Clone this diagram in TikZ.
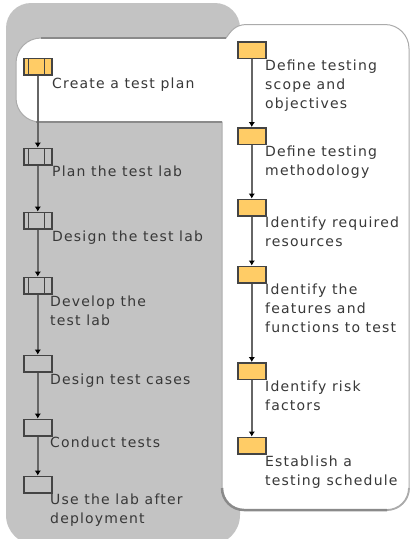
\documentclass[tikz,border=0pt]{standalone}
\usepackage{fontspec}
\usetikzlibrary{arrows.meta}
\setmainfont[LetterSpace=8.5]{DejaVu Sans}
\definecolor{panelgray}{HTML}{C3C3C3}
\definecolor{edgegray}{HTML}{8A8A8A}
\definecolor{lightedge}{HTML}{ABABAB}
\definecolor{boxyellow}{HTML}{FFCC66}
\definecolor{linegray}{HTML}{444444}
\tikzset{
stepnode/.style={draw=linegray,line width=1.6pt,minimum width=28pt,minimum height=16.5pt,inner sep=0pt,anchor=north west},
donenode/.style={stepnode,fill=boxyellow},
phasenode/.style={path picture={
\draw[linegray,line width=1.3pt] ([xshift=5pt]path picture bounding box.north west) -- ([xshift=5pt]path picture bounding box.south west);
\draw[linegray,line width=1.3pt] ([xshift=-7pt]path picture bounding box.north east) -- ([xshift=-7pt]path picture bounding box.south east);
}},
steptext/.style={anchor=north west,inner sep=0pt,align=left,font=\fontsize{14}{19}\selectfont,text=black!78},
flow/.style={-{Latex[black,length=5pt,width=6.5pt]},black!60,line width=2pt}
}
\begin{document}
\begin{tikzpicture}[x=1pt,y=-1pt]
\useasboundingbox (0,0) rectangle (410,539);
\fill[panelgray] (31,3) -- (215,3) arc[start angle=90,end angle=0,radius=25pt] -- (240,515) arc[start angle=0,end angle=-90,radius=30pt] -- (36,545) arc[start angle=-90,end angle=-180,radius=30pt] -- (6,28) arc[start angle=180,end angle=90,radius=25pt] -- cycle;
\filldraw[fill=white,draw=lightedge,line width=1pt] (16,63) arc[start angle=180,end angle=90,radius=25pt] -- (226,38) .. controls (231,31) and (235,25) .. (246,24.5) -- (385,24.5) arc[start angle=90,end angle=0,radius=24pt] -- (409,488) arc[start angle=0,end angle=-90,radius=22pt] -- (244,510) arc[start angle=-90,end angle=-180,radius=22pt] -- (222,122) -- (40,122) arc[start angle=-90,end angle=-180,radius=24pt] -- cycle;
\draw[edgegray,line width=2pt] (41,38) -- (226,38);
\draw[edgegray,line width=2.5pt] (222,122) -- (36,122);
\draw[lightedge,line width=1.8pt] (409,488) arc[start angle=0,end angle=-90,radius=22pt];
\draw[edgegray,line width=2.5pt] (222,488) arc[start angle=180,end angle=270,radius=22pt] -- (387,510);
\node[donenode,phasenode] (plan) at (23,57.5) {};
\node[stepnode,phasenode] (lab) at (23,147.5) {};
\node[stepnode,phasenode] (design) at (23,211.5) {};
\node[stepnode,phasenode] (develop) at (23,276.5) {};
\node[stepnode] (cases) at (23,354.5) {};
\node[stepnode] (conduct) at (23,418.5) {};
\node[stepnode] (use) at (23,475.5) {};
\node[donenode] (scope) at (237,41) {};
\node[donenode] (method) at (237,127) {};
\node[donenode] (resources) at (237,198.5) {};
\node[donenode] (features) at (237,265.5) {};
\node[donenode] (risk) at (237,362) {};
\node[donenode] (schedule) at (237,436.5) {};
\node[steptext] (plantext) at (52,78) {Create a test plan};
\node[steptext] (labtext) at (52,166) {Plan the test lab};
\node[steptext] (designtext) at (52,231) {Design the test lab};
\node[steptext] (developtext) at (50,296) {Develop the\\test lab};
\node[steptext] (casestext) at (50,374) {Design test cases};
\node[steptext] (conducttext) at (50,437) {Conduct tests};
\node[steptext] (usetext) at (50,494) {Use the lab after\\deployment};
\node[steptext] (scopetext) at (265,60) {Define testing\\scope and\\objectives};
\node[steptext] (methodtext) at (265,146) {Define testing\\methodology};
\node[steptext] (resourcestext) at (265,217) {Identify required\\resources};
\node[steptext] (featurestext) at (265,284) {Identify the\\features and\\functions to test};
\node[steptext] (risktext) at (265,381) {Identify risk\\factors};
\node[steptext] (scheduletext) at (265,456) {Establish a\\testing schedule};
\foreach \a/\b in {plan/lab,lab/design,design/develop,develop/cases,cases/conduct,conduct/use,scope/method,method/resources,resources/features,features/risk,risk/schedule}
\draw[flow] (\a) -- (\b);
\end{tikzpicture}
\end{document}
